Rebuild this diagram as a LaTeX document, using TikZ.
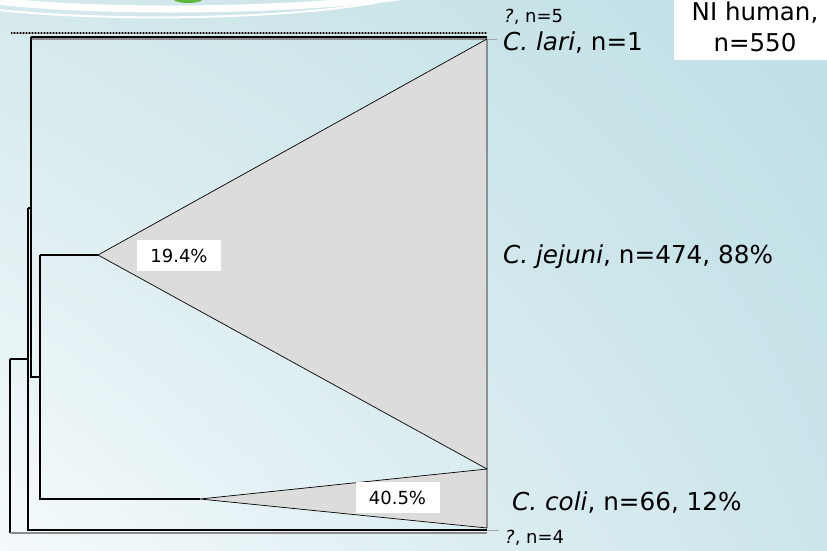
\documentclass[tikz,border=0pt]{standalone}
\usepackage{fontspec}
\setmainfont{DejaVu Sans}
\usetikzlibrary{positioning,shadings}
\definecolor{bgcyan}{HTML}{BFE0E6}
\definecolor{bgtl}{HTML}{D5E9EC}
\definecolor{bgwhite}{HTML}{F5FAFC}
\definecolor{bgbr}{HTML}{CBE5EA}
\definecolor{cladegray}{HTML}{DCDCDC}
\definecolor{logogreen}{HTML}{5CB638}
\tikzset{
  branch/.style={black, line width=1.1pt},
  shadowline/.style={black!45, line width=1.6pt},
  clade/.style={fill=cladegray, draw=black, line width=0.7pt, line join=miter},
  pctbox/.style={fill=white, inner sep=0pt, minimum width=84pt, minimum height=31pt, font=\fontsize{18}{18}\selectfont},
  taxon/.style={anchor=west, inner sep=0pt, font=\fontsize{24.7}{25}\selectfont},
  unknown/.style={anchor=west, inner sep=0pt, font=\fontsize{18}{18}\selectfont},
  boxtext/.style={inner sep=0pt, font=\fontsize{24.5}{25}\selectfont},
  tick/.style={black!35, line width=0.5pt}
}
\begin{document}
\begin{tikzpicture}[x=1pt, y=-1pt]
\useasboundingbox (0,0) rectangle (827,551);
\shade[upper left=bgtl, upper right=bgcyan, lower left=bgwhite, lower right=bgbr] (0,0) rectangle (827,551);
\draw[white, line width=7pt] (-20,-1) .. controls (90,14) and (300,12) .. (420,-6);
\draw[white, line width=2pt] (-10,9) .. controls (100,22) and (280,20) .. (380,2);
\fill[logogreen] (188,-3) ellipse (17 and 6);

\coordinate (root) at (10,359);
\coordinate (inA) at (28,208);
\coordinate (inB) at (31,377);
\coordinate (inC) at (40,255);
\coordinate (jej) at (98,255);
\coordinate (col) at (200,499);
\coordinate (jejT) at (487,39);
\coordinate (jejB) at (487,469);
\coordinate (colB) at (487,528);
\coordinate (lariE) at (487,37);
\coordinate (unkE) at (487,530);
\coordinate (unkF) at (487,533);
\coordinate (fiveS) at (11,33);
\coordinate (fiveE) at (487,33);

\draw[shadowline] (fiveS) -- (fiveE);
\draw[black, line width=2pt, dash pattern=on 0.8pt off 2.2pt] (fiveS) -- (fiveE);
\draw[shadowline] (inB |- 0,39) -- (lariE |- 0,39);
\draw[branch] (inB |- lariE) -- (lariE);
\draw[branch] (inB |- lariE) -- (inB) -- (inC |- inB);
\draw[branch] (inC) -- (jej);
\draw[branch] (inC) |- (col);
\draw[branch] (inA) -- (inB |- inA);
\draw[branch] (root) -- (inA |- root);
\draw[branch] (inA) |- (unkE);
\draw[branch] (root) -- (root |- unkF);
\draw[shadowline] (root |- unkF) -- (unkF);

\draw[clade] (jej) -- (jejT) -- (jejB) -- cycle;
\draw[clade] (col) -- (jejB) -- (colB) -- cycle;

\node[pctbox] (pctJ) at (179,255.5) {19.4\%};
\node[pctbox] (pctC) at (397.5,497.5) {40.5\%};

\node[unknown] (labFive) at (504,17) {\textit{?}, n=5};
\node[taxon] (labLari) at (503,43) {\textit{C. lari}, n=1};
\node[taxon] (labJej) at (503,257) {\textit{C. jejuni}, n=474, 88\%};
\node[taxon] (labCol) at (512,503) {\textit{C. coli}, n=66, 12\%};
\node[unknown] (labFour) at (505,538) {\textit{?}, n=4};
\draw[tick] (jejT) -- ++(10,0);
\draw[tick] (unkE) -- ++(12,0);

\fill[white] (674,0) rectangle (827,60);
\node[boxtext] (boxTop) at (755,13) {NI human,};
\node[boxtext] (boxBot) at (755,43) {n=550};
\end{tikzpicture}
\end{document}
